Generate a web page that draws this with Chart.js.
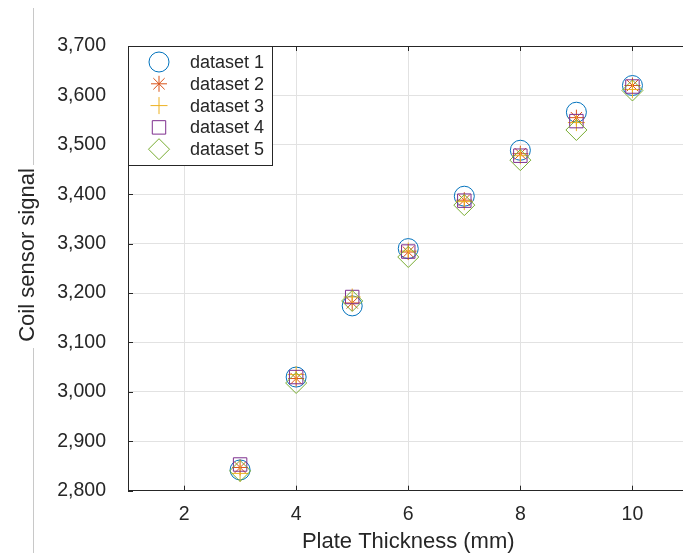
<!DOCTYPE html>
<html>
<head>
<meta charset="utf-8">
<script src="https://cdn.jsdelivr.net/npm/chart.js@4.4.0/dist/chart.umd.min.js"></script>
<style>
  html, body { margin: 0; padding: 0; background: #fff; overflow: hidden; }
  #wrap { position: relative; width: 700px; height: 553px; }
</style>
</head>
<body>
<div id="wrap"><canvas id="chart" width="700" height="553"></canvas></div>
<script>
// Plate thickness (mm) and the coil signal for each of the five runs
const thickness = [3, 4, 5, 6, 7, 8, 9, 10];
const signal1 = [2842, 3030, 3174, 3290, 3396, 3489, 3566, 3620];
const signal2 = [2847, 3027, 3180, 3283, 3388, 3482, 3555, 3620];
const signal3 = [2835, 3035, 3192, 3285, 3385, 3478, 3545, 3612];
const signal4 = [2853, 3030, 3192, 3284, 3387, 3478, 3548, 3618];
const signal5 = [2840, 3018, 3184, 3273, 3378, 3469, 3530, 3610];

const seriesNames = ['dataset 1', 'dataset 2', 'dataset 3', 'dataset 4', 'dataset 5'];
const seriesValues = [signal1, signal2, signal3, signal4, signal5];

const xTickValues = [2, 4, 6, 8, 10];
const yTickValues = [2800, 2900, 3000, 3100, 3200, 3300, 3400, 3500, 3600, 3700];

const seriesColors = ['#0072BD', '#D95319', '#EDB120', '#7E2F8E', '#77AC30'];
const seriesMarkers = ['circle', 'star', 'cross', 'rect', 'rectRot'];
const markerRadius = [10, 8, 8.5, 9.5, 10.5];

const axisColor = '#262626';
const gridColor = '#e2e2e2';
const fontFamily = '"Liberation Sans", Arial, Helvetica, sans-serif';
const yTitle = 'Coil sensor signal';

const datasets = seriesNames.map((name, i) => ({
  label: name,
  data: thickness.map((x, j) => ({ x: x, y: seriesValues[i][j] })),
  showLine: false,
  borderColor: seriesColors[i],
  backgroundColor: 'rgba(0,0,0,0)',
  pointStyle: seriesMarkers[i],
  pointRadius: markerRadius[i],
  pointBorderWidth: 1,
  pointBackgroundColor: 'rgba(0,0,0,0)',
  // later series are painted over earlier ones
  order: seriesNames.length - i
}));

// box edges, inward tick marks and the y title
const framePlugin = {
  id: 'frame',
  beforeDatasetsDraw(chart) {
    const { ctx, chartArea: a, scales } = chart;
    ctx.save();
    ctx.strokeStyle = axisColor;
    ctx.lineWidth = 1;
    ctx.beginPath();
    ctx.moveTo(a.left, a.top + 0.5);
    ctx.lineTo(a.right, a.top + 0.5);
    xTickValues.forEach(v => {
      const px = Math.round(scales.x.getPixelForValue(v)) + 0.5;
      ctx.moveTo(px, a.bottom);
      ctx.lineTo(px, a.bottom - 5);
      ctx.moveTo(px, a.top);
      ctx.lineTo(px, a.top + 5);
    });
    yTickValues.forEach(v => {
      const py = Math.round(scales.y.getPixelForValue(v)) + 0.5;
      ctx.moveTo(a.left, py);
      ctx.lineTo(a.left + 5, py);
    });
    ctx.stroke();

    // thin page rule on the far left
    ctx.strokeStyle = '#c8c8c8';
    ctx.beginPath();
    ctx.moveTo(33.5, 8);
    ctx.lineTo(33.5, 165);
    ctx.moveTo(33.5, 348);
    ctx.lineTo(33.5, 553);
    ctx.stroke();

    ctx.translate(28, 255);
    ctx.rotate(-Math.PI / 2);
    ctx.fillStyle = axisColor;
    ctx.font = '22px ' + fontFamily;
    ctx.textAlign = 'center';
    ctx.textBaseline = 'middle';
    ctx.fillText(yTitle, 0, 0);
    ctx.restore();
  }
};

// boxed legend in the upper left corner of the axes
const legendPlugin = {
  id: 'boxLegend',
  afterDatasetsDraw(chart) {
    const { ctx, chartArea: a } = chart;
    const left = a.left, top = a.top, w = 144, h = 119;
    ctx.save();
    ctx.fillStyle = '#fff';
    ctx.fillRect(left, top, w, h);
    ctx.strokeStyle = axisColor;
    ctx.lineWidth = 1;
    ctx.strokeRect(Math.round(left) + 0.5, Math.round(top) + 0.5, w, h);
    ctx.font = '18px ' + fontFamily;
    ctx.textBaseline = 'middle';
    ctx.textAlign = 'left';
    seriesNames.forEach((name, i) => {
      const cy = top + 16 + i * 21.8;
      ctx.strokeStyle = seriesColors[i];
      ctx.fillStyle = 'rgba(0,0,0,0)';
      ctx.lineWidth = 1;
      Chart.helpers.drawPoint(ctx, {
        pointStyle: seriesMarkers[i],
        radius: markerRadius[i],
        rotation: 0,
        borderWidth: 1
      }, left + 31, cy);
      ctx.fillStyle = axisColor;
      ctx.fillText(name, left + 62, cy + 1);
    });
    ctx.restore();
  }
};

new Chart(document.getElementById('chart'), {
  type: 'scatter',
  data: { datasets: datasets },
  plugins: [framePlugin, legendPlugin],
  options: {
    responsive: false,
    animation: false,
    devicePixelRatio: 1,
    layout: { padding: { top: 46, right: 8, left: 0, bottom: 0 } },
    plugins: {
      legend: { display: false },
      tooltip: { enabled: false }
    },
    scales: {
      x: {
        type: 'linear',
        min: 1,
        max: 11,
        afterBuildTicks(scale) {
          scale.ticks = xTickValues.map(v => ({ value: v }));
        },
        afterFit(scale) { scale.height = 62.3; },
        grid: { color: gridColor, drawTicks: false, lineWidth: 1 },
        border: { display: true, color: axisColor, width: 1 },
        ticks: {
          padding: 12,
          color: axisColor,
          font: { family: fontFamily, size: 19.5 }
        },
        title: {
          display: true,
          text: 'Plate Thickness (mm)',
          color: axisColor,
          font: { family: fontFamily, size: 22, lineHeight: 1 },
          padding: 0
        }
      },
      y: {
        type: 'linear',
        min: 2800,
        max: 3700,
        afterBuildTicks(scale) {
          scale.ticks = yTickValues.map(v => ({ value: v }));
        },
        afterFit(scale) { scale.width = 128; },
        grid: { color: gridColor, drawTicks: false, lineWidth: 1 },
        border: { display: true, color: axisColor, width: 1 },
        ticks: {
          padding: 22,
          color: axisColor,
          font: { family: fontFamily, size: 19.5 }
        },
        title: { display: false }
      }
    }
  }
});
</script>
</body>
</html>
